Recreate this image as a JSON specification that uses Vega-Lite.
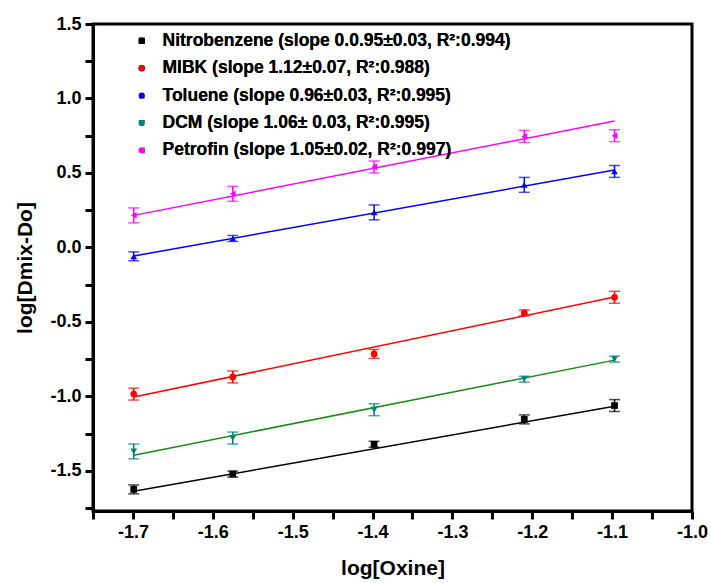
{
  "$schema": "https://vega.github.io/schema/vega-lite/v6.json",
  "width": 599,
  "height": 487,
  "autosize": {"type": "none"},
  "padding": {"left": 93, "top": 24, "right": 19, "bottom": 72},
  "background": "white",
  "config": {
    "view": {"stroke": "black", "strokeWidth": 3},
    "font": "Liberation Sans",
    "axis": {
      "domainColor": "black", "domainWidth": 3, "tickColor": "black", "tickWidth": 3,
      "grid": false, "labelFont": "Liberation Sans", "labelFontWeight": "bold", "labelFontSize": 18,
      "labelColor": "black", "titleFont": "Liberation Sans", "titleFontWeight": "bold", "titleFontSize": 21, "titleColor": "black"
    }
  },
  "datasets": {
    "points": [
      {"series": "Nitrobenzene", "x": -1.699, "y": -1.625, "err": 0.03},
      {"series": "Nitrobenzene", "x": -1.575, "y": -1.522, "err": 0.02},
      {"series": "Nitrobenzene", "x": -1.398, "y": -1.322, "err": 0.02},
      {"series": "Nitrobenzene", "x": -1.21, "y": -1.155, "err": 0.03},
      {"series": "Nitrobenzene", "x": -1.097, "y": -1.062, "err": 0.04},
      {"series": "MIBK", "x": -1.699, "y": -0.985, "err": 0.04},
      {"series": "MIBK", "x": -1.575, "y": -0.87, "err": 0.04},
      {"series": "MIBK", "x": -1.398, "y": -0.715, "err": 0.03},
      {"series": "MIBK", "x": -1.21, "y": -0.44, "err": 0.02},
      {"series": "MIBK", "x": -1.097, "y": -0.335, "err": 0.04},
      {"series": "Toluene", "x": -1.699, "y": -0.06, "err": 0.03},
      {"series": "Toluene", "x": -1.575, "y": 0.06, "err": 0.02},
      {"series": "Toluene", "x": -1.398, "y": 0.235, "err": 0.05},
      {"series": "Toluene", "x": -1.21, "y": 0.42, "err": 0.05},
      {"series": "Toluene", "x": -1.097, "y": 0.51, "err": 0.04},
      {"series": "DCM", "x": -1.699, "y": -1.37, "err": 0.05},
      {"series": "DCM", "x": -1.575, "y": -1.28, "err": 0.04},
      {"series": "DCM", "x": -1.398, "y": -1.09, "err": 0.04},
      {"series": "DCM", "x": -1.21, "y": -0.885, "err": 0.02},
      {"series": "DCM", "x": -1.097, "y": -0.75, "err": 0.02},
      {"series": "Petrofin", "x": -1.699, "y": 0.215, "err": 0.05},
      {"series": "Petrofin", "x": -1.575, "y": 0.36, "err": 0.05},
      {"series": "Petrofin", "x": -1.398, "y": 0.54, "err": 0.04},
      {"series": "Petrofin", "x": -1.21, "y": 0.745, "err": 0.04},
      {"series": "Petrofin", "x": -1.097, "y": 0.75, "err": 0.04}
    ],
    "fits": [
      {"series": "Nitrobenzene", "x": -1.699, "y": -1.638},
      {"series": "Nitrobenzene", "x": -1.097, "y": -1.066},
      {"series": "MIBK", "x": -1.699, "y": -1.005},
      {"series": "MIBK", "x": -1.097, "y": -0.333},
      {"series": "Toluene", "x": -1.699, "y": -0.058},
      {"series": "Toluene", "x": -1.097, "y": 0.52},
      {"series": "DCM", "x": -1.699, "y": -1.395},
      {"series": "DCM", "x": -1.097, "y": -0.757},
      {"series": "Petrofin", "x": -1.699, "y": 0.215},
      {"series": "Petrofin", "x": -1.097, "y": 0.848}
    ]
  },
  "encoding": {
    "x": {"field": "x", "type": "quantitative", "title": "log[Oxine]",
      "scale": {"domain": [-1.75, -1.0], "nice": false, "zero": false},
      "axis": {
        "values": [-1.75, -1.7, -1.65, -1.6, -1.55, -1.5, -1.45, -1.4, -1.35, -1.3, -1.25, -1.2, -1.15, -1.1, -1.05, -1.0],
        "labelExpr": "abs(round(datum.value*20)) % 2 == 0 ? replace(format(datum.value, '.1f'), '\u2212', '-') : ''",
        "tickSize": 8, "labelPadding": 4, "titlePadding": 16, "labelFlush": false
      }
    },
    "y": {"field": "y", "type": "quantitative", "title": "log[Dmix-Do]",
      "scale": {"domain": [-1.77, 1.5], "nice": false, "zero": false},
      "axis": {
        "values": [-1.75, -1.5, -1.25, -1.0, -0.75, -0.5, -0.25, 0, 0.25, 0.5, 0.75, 1.0, 1.25, 1.5],
        "labelExpr": "abs(round(datum.value*4)) % 2 == 0 ? replace(format(datum.value, '.1f'), '\u2212', '-') : ''",
        "tickSize": 8, "labelPadding": 4, "titlePadding": 14, "labelFlush": false
      }
    }
  },
  "layer": [
    {
      "data": {"name": "fits"},
      "mark": {"type": "line", "strokeWidth": 1.5},
      "encoding": {
        "color": {"field": "series", "type": "nominal", "legend": null,
          "scale": {"domain": ["Nitrobenzene", "MIBK", "Toluene", "DCM", "Petrofin"], "range": ["#000000", "#ff0000", "#0000ff", "#1a8a1a", "#ff00ff"]}}
      }
    },
    {
      "data": {"name": "points"},
      "mark": {"type": "errorbar", "ticks": {"size": 11, "thickness": 1.5}, "thickness": 1.5},
      "encoding": {
        "yError": {"field": "err"},
        "color": {"field": "series", "type": "nominal", "legend": null,
          "scale": {"domain": ["Nitrobenzene", "MIBK", "Toluene", "DCM", "Petrofin"], "range": ["#000000", "#ff0000", "#0000ff", "#008080", "#ff00ff"]}}
      }
    },
    {
      "data": {"name": "points"},
      "mark": {"type": "point", "filled": true, "opacity": 1, "size": 45},
      "encoding": {
        "color": {"field": "series", "type": "nominal",
          "scale": {"domain": ["Nitrobenzene", "MIBK", "Toluene", "DCM", "Petrofin"], "range": ["#000000", "#ff0000", "#0000ff", "#008080", "#ff00ff"]},
          "legend": {
            "title": null, "orient": "none", "legendX": 40, "legendY": 8,
            "symbolSize": 40, "labelFont": "Liberation Sans", "labelFontWeight": "bold", "labelFontSize": 17.5, "labelColor": "black",
            "rowPadding": 8.4, "labelOffset": 12, "labelLimit": 500,
            "labelExpr": "datum.label == 'Nitrobenzene' ? 'Nitrobenzene (slope 0.0.95±0.03, R²:0.994)' : datum.label == 'MIBK' ? 'MIBK (slope 1.12±0.07, R²:0.988)' : datum.label == 'Toluene' ? 'Toluene (slope 0.96±0.03, R²:0.995)' : datum.label == 'DCM' ? 'DCM (slope 1.06± 0.03, R²:0.995)' : 'Petrofin (slope 1.05±0.02, R²:0.997)'"
          }
        },
        "shape": {"field": "series", "type": "nominal",
          "scale": {"domain": ["Nitrobenzene", "MIBK", "Toluene", "DCM", "Petrofin"], "range": ["square", "circle", "triangle-up", "triangle-down", "triangle-left"]},
          "legend": {
            "title": null, "orient": "none", "legendX": 40, "legendY": 8,
            "symbolSize": 40, "labelFont": "Liberation Sans", "labelFontWeight": "bold", "labelFontSize": 17.5, "labelColor": "black",
            "rowPadding": 8.4, "labelOffset": 12, "labelLimit": 500,
            "labelExpr": "datum.label == 'Nitrobenzene' ? 'Nitrobenzene (slope 0.0.95±0.03, R²:0.994)' : datum.label == 'MIBK' ? 'MIBK (slope 1.12±0.07, R²:0.988)' : datum.label == 'Toluene' ? 'Toluene (slope 0.96±0.03, R²:0.995)' : datum.label == 'DCM' ? 'DCM (slope 1.06± 0.03, R²:0.995)' : 'Petrofin (slope 1.05±0.02, R²:0.997)'"
          }
        }
      }
    }
  ],
  "resolve": {"scale": {"color": "independent"}}
}
